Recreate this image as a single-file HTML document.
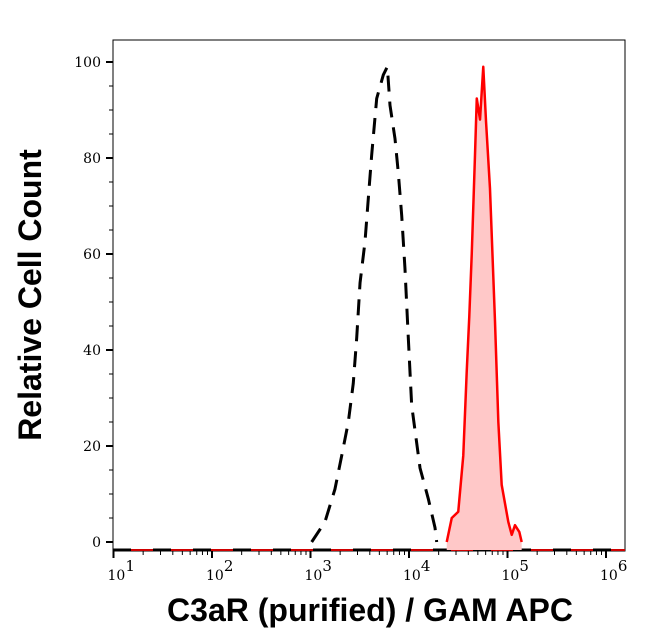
<!DOCTYPE html>
<html><head><meta charset="utf-8"><style>
html,body{margin:0;padding:0;background:#fff;width:646px;height:641px;overflow:hidden}
svg{display:block}
.tk{font-family:"DejaVu Serif","Liberation Serif",serif;font-size:14px;fill:#000}
.ttl{font-family:"Liberation Sans","DejaVu Sans",sans-serif;font-weight:bold;font-size:32px;fill:#000}
</style></head><body>
<svg id="chart" width="646" height="641" viewBox="0 0 646 641">
<rect x="113" y="40" width="512" height="511" fill="none" stroke="#000" stroke-width="1"/>
<g id="axes"></g>
<g id="series"></g>
<text class="ttl" transform="translate(41,295) rotate(-90)" text-anchor="middle">Relative Cell Count</text>
<text class="ttl" x="370" y="621" text-anchor="middle">C3aR (purified) / GAM APC</text>
</svg>
<script>
const yTicks=[0,20,40,60,80,100];
const xDecades=[1,2,3,4,5,6];
const controlLog=[3.012,3.147,3.248,3.317,3.384,3.434,3.469,3.503,3.553,3.587,3.621,3.672,3.739,3.780,3.807,3.858,3.891,3.926,3.959,3.993,4.027,4.112,4.196,4.264,4.281];
const controlVal=[0,4.2,11,18,25,33,42.5,54,62.5,71.6,80.6,92.4,97.3,99,91,84,77,68,57,42.5,28.5,15.4,9,3,0];
const stainLog=[4.383,4.434,4.50,4.551,4.586,4.612,4.637,4.670,4.688,4.721,4.754,4.782,4.822,4.873,4.907,4.941,5.008,5.043,5.076,5.12,5.144];
const stainVal=[0,5,6.3,18,35.5,47,60,80.6,92.4,88,99,87.6,73.7,46,25,11.9,4.2,1.5,3.5,2.1,0];

const NS='http://www.w3.org/2000/svg';
const X=l=>113.5+(l-1)*98.5;
const Y=v=>542-v*4.8;
const axes=document.getElementById('axes'), ser=document.getElementById('series');
function mk(tag,attrs,parent){const e=document.createElementNS(NS,tag);for(const k in attrs)e.setAttribute(k,attrs[k]);parent.appendChild(e);return e;}

for(let v=0;v<=100;v+=5){
  const major=v%20===0;
  const t=mk('line',{x1:major?106:109,x2:113,y1:Y(v),y2:Y(v),stroke:'#000','stroke-width':major?2:1},axes);
  
  
}
yTicks.forEach(v=>{
  const t=mk('text',{x:101,y:Y(v)+5,'text-anchor':'end',class:'tk'},axes);
  t.textContent=String(v);
  
  
});
for(let d=1;d<=6;d++){
  for(let m=1;m<=9;m++){
    const l=d+Math.log10(m);
    if(l>6.2)break;
    const t=mk('line',{x1:X(l),x2:X(l),y1:551,y2:m===1?558:555,stroke:'#000','stroke-width':m===1?2:1},axes);
    
    
  }
}
xDecades.forEach(d=>{
  const t=mk('text',{x:X(d)-6,y:580,'text-anchor':'start',class:'tk','font-size':'15'},axes);
  
  
  t.textContent='10';
  const s=mk('tspan',{dy:-9,'font-size':'15'},t);
  s.textContent=String(d);
});
const bl=mk('line',{x1:113,x2:625,y1:550,y2:550,stroke:'#d00000','stroke-width':2},ser);


const bl2=mk('line',{x1:113,x2:625,y1:550,y2:550,stroke:'#000','stroke-width':3,'stroke-dasharray':'18 22'},ser);


let pts=stainLog.map((l,i)=>X(l)+','+Y(stainVal[i])).join(' ');
const area=mk('polygon',{points:X(stainLog[0])+',550 '+pts+' '+X(stainLog[stainLog.length-1])+',550',fill:'#ffc8c8',stroke:'none'},ser);


const sl=mk('polyline',{points:pts,fill:'none',stroke:'#ff0000','stroke-width':2.5,'stroke-linejoin':'round'},ser);


const cp=controlLog.map((l,i)=>X(l)+','+Y(controlVal[i])).join(' ');
const cl=mk('polyline',{points:cp,fill:'none',stroke:'#000','stroke-width':3,'stroke-dasharray':'16 10'},ser);


</script>
</body></html>
